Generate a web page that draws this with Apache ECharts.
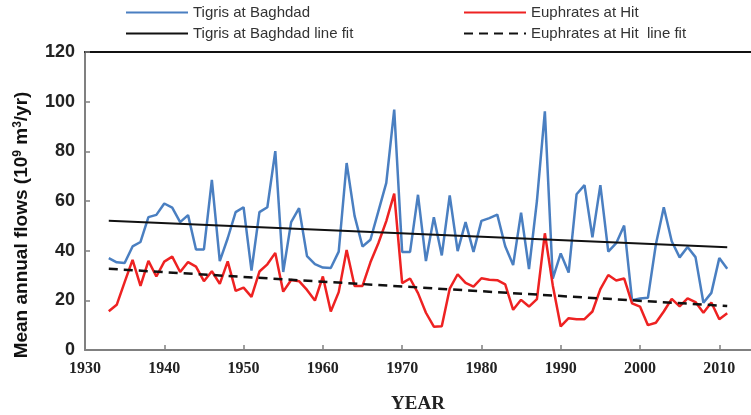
<!DOCTYPE html>
<html><head><meta charset="utf-8">
<script src="https://cdn.jsdelivr.net/npm/echarts@6/dist/echarts.min.js"></script>
<style>html,body{margin:0;padding:0;background:#fff}#c{width:751px;height:415px}</style>
</head><body><div id="c"></div>
<script>
const years = [1933,1934,1935,1936,1937,1938,1939,1940,1941,1942,1943,1944,1945,1946,1947,1948,1949,1950,
  1951,1952,1953,1954,1955,1956,1957,1958,1959,1960,1961,1962,1963,1964,1965,1966,1967,1968,1969,1970,
  1971,1972,1973,1974,1975,1976,1977,1978,1979,1980,1981,1982,1983,1984,1985,1986,1987,1988,1989,1990,
  1991,1992,1993,1994,1995,1996,1997,1998,1999,2000,2001,2002,2003,2004,2005,2006,2007,2008,2009,2010,2011];
const tigris = [37.0,35.3,35.0,41.7,43.5,53.5,54.4,59.0,57.3,51.5,54.3,40.5,40.5,68.5,35.8,45.0,55.5,57.5,
  32.0,55.5,57.5,80.1,31.4,51.5,57.1,37.8,34.6,33.2,33.0,39.6,75.3,54.0,41.7,44.4,55.8,67.3,96.8,39.5,
  39.5,62.5,35.8,53.5,38.1,62.2,39.8,51.5,39.5,52.0,53.1,54.5,41.8,34.2,55.3,32.6,60.0,96.1,28.7,38.9,
  31.2,62.7,66.4,45.4,66.4,39.6,43.0,50.1,20.0,20.7,21.0,42.5,57.5,43.8,37.3,41.5,37.4,19.0,23.0,37.0,32.7];
const euphrates = [15.6,18.2,27.3,36.3,25.8,35.9,29.6,35.6,37.6,31.4,35.4,33.6,27.7,31.7,26.6,35.7,23.8,25.1,
  21.4,31.6,34.5,39.1,23.5,28.2,27.7,24.2,19.9,29.6,15.5,23.3,40.3,25.8,25.8,35.3,43.0,51.9,63.0,26.9,
  28.8,22.9,15.0,9.4,9.6,24.7,30.5,27.0,25.5,28.9,28.3,28.1,26.4,16.2,20.2,17.5,20.5,47.0,26.0,9.5,
  12.8,12.4,12.4,15.5,24.5,30.2,28.0,28.8,18.8,17.5,10.0,11.0,15.5,20.6,17.6,20.8,19.3,15.0,19.1,12.4,14.8];
const fitYears = [1933, 2011];
const tigrisFit = [52.0, 41.4];
const euphratesFit = [32.7, 17.7];
const xLabels = [1930,1940,1950,1960,1970,1980,1990,2000,2010];
const xTicks = [1940,1950,1960,1970,1980,1990,2000,2010];

const pair = (xs, ys) => xs.map((x, i) => [x, ys[i]]);
const chart = echarts.init(document.getElementById('c'), null, {renderer: 'canvas'});
const legendText = {fontFamily: 'Liberation Sans', fontSize: 15, color: '#333'};
const mkLegend = (name, left, top) => ({
  data: [name], left: left, top: top, itemWidth: 62, itemHeight: 10, itemGap: 0,
  textStyle: legendText, padding: 0, selectedMode: false,
  itemStyle: {opacity: 0}
});
chart.setOption({
  animation: false,
  backgroundColor: '#fff',
  grid: {left: 85, right: 0, top: 52, bottom: 65, containLabel: false, outerBoundsMode: 'none'},
  legend: [
    mkLegend('Tigris at Baghdad', 125, 5),
    mkLegend('Euphrates at Hit', 463, 5),
    mkLegend('Tigris at Baghdad line fit', 125, 26),
    mkLegend('Euphrates at Hit  line fit', 463, 26)
  ],
  xAxis: [{
    type: 'value', min: 1930, max: 2014, interval: 10,
    axisLine: {show: true, lineStyle: {color: '#808080', width: 2}},
    axisTick: {show: true, inside: true, length: 5, customValues: xTicks, lineStyle: {color: '#808080', width: 1.5}},
    axisLabel: {customValues: xLabels, formatter: v => String(v), margin: 11, fontFamily: 'Liberation Serif', fontWeight: 'bold', fontSize: 16, color: '#222'},
    splitLine: {show: false},
    name: 'YEAR', nameLocation: 'middle', nameGap: 45,
    nameTextStyle: {fontFamily: 'Liberation Serif', fontWeight: 'bold', fontSize: 19, color: '#222'}
  }, {
    type: 'value', position: 'top', min: 1930, max: 2014,
    axisLine: {show: true, lineStyle: {color: '#111', width: 2}},
    axisTick: {show: false}, axisLabel: {show: false}, splitLine: {show: false}
  }],
  yAxis: {
    type: 'value', min: 0, max: 120, interval: 20,
    axisLine: {show: true, lineStyle: {color: '#808080', width: 2}},
    axisTick: {show: true, inside: true, length: 5, lineStyle: {color: '#808080', width: 1.5}},
    axisLabel: {margin: 10, fontFamily: 'Liberation Sans', fontWeight: 'bold', fontSize: 18, color: '#222'},
    splitLine: {show: false}
  },
  graphic: [{
    type: 'text', x: 22, y: 225, rotation: Math.PI / 2,
    style: {
      text: 'Mean annual flows (10{s|9} m{s|3}/yr)',
      align: 'center', verticalAlign: 'middle',
      fontFamily: 'Liberation Sans', fontWeight: 'bold', fontSize: 19, fill: '#111',
      rich: {s: {fontFamily: 'Liberation Sans', fontWeight: 'bold', fontSize: 12, fill: '#111', verticalAlign: 'top', padding: [0, 0, 9, 0]}}
    }
  }],
  series: [
    {name: 'Tigris at Baghdad', type: 'line', data: pair(years, tigris), symbol: 'none',
     lineStyle: {color: '#4a7fc1', width: 2.5}, itemStyle: {color: '#4a7fc1'}, z: 3},
    {name: 'Euphrates at Hit', type: 'line', data: pair(years, euphrates), symbol: 'none',
     lineStyle: {color: '#ee2222', width: 2.5}, itemStyle: {color: '#ee2222'}, z: 3},
    {name: 'Tigris at Baghdad line fit', type: 'line', data: pair(fitYears, tigrisFit), symbol: 'none',
     lineStyle: {color: '#111', width: 2}, itemStyle: {color: '#111'}, z: 4},
    {name: 'Euphrates at Hit  line fit', type: 'line', data: pair(fitYears, euphratesFit), symbol: 'none',
     lineStyle: {color: '#111', width: 2.5, type: [9, 6]}, itemStyle: {color: '#111'}, z: 4}
  ]
});
</script></body></html>
